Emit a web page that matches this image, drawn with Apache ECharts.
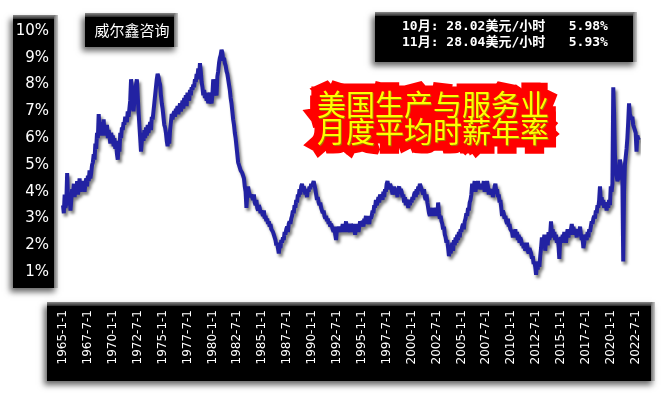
<!DOCTYPE html>
<html>
<head>
<meta charset="utf-8">
<script src="https://cdn.jsdelivr.net/npm/echarts@6/dist/echarts.min.js"></script>
<style>
html,body{margin:0;padding:0;background:#fff;}
#c{width:662px;height:393px;}
</style>
</head>
<body>
<div id="c"></div>
<script>
// ---- data (monthly YoY % of US production & nonsupervisory avg hourly earnings) ----
const START_YEAR = 1965;
const v1965_1969 = [
  3.5,3.2,3.9,3.4,3.6,4.7,3.8,3.5,3.9,3.3,3.7,4.1,
  3.9,4.3,3.8,4.2,4.0,4.4,3.9,4.1,4.5,4.0,4.2,4.3,
  4.1,4.4,4.0,4.3,4.5,4.2,4.6,4.4,4.8,4.5,4.7,5.0,
  5.1,5.4,5.2,5.8,5.6,6.2,6.0,6.9,6.4,6.6,6.1,6.5,
  6.3,6.7,6.1,6.4,6.2,6.5,6.0,6.3,6.1,5.8,6.2,6.0
];
const v1970_1979 = [
  6.1,5.7,6.0,5.6,5.9,5.4,5.2,5.8,5.5,6.2,6.0,6.4,
  6.3,6.6,6.5,6.8,6.7,6.6,7.0,6.8,7.1,7.4,8.2,7.9,
  7.3,7.0,7.4,7.8,8.0,8.2,7.6,7.0,6.5,6.0,5.5,5.9,
  6.2,5.9,6.3,6.0,6.4,6.1,6.5,6.2,6.4,6.6,6.3,6.8,
  6.7,7.0,7.3,7.6,7.9,8.2,8.4,8.3,8.1,8.0,7.6,7.3,
  7.1,6.8,6.5,6.4,6.2,5.9,5.7,6.0,5.8,6.3,6.6,6.9,
  6.7,6.9,7.0,6.8,7.1,7.0,7.2,6.9,7.1,7.3,7.0,7.2,
  7.4,7.1,7.5,7.3,7.6,7.2,7.7,7.5,7.4,7.8,7.6,7.9,
  7.8,8.0,7.9,8.2,8.1,8.4,8.3,8.6,8.2,8.8,8.5,8.1,
  7.9,7.6,7.8,7.5,7.7,7.4,7.6,7.3,7.5,7.7,7.4,7.3
];
const v1980_1989 = [
  7.6,8.2,7.8,8.0,7.7,7.6,8.3,8.5,8.8,9.0,9.1,9.3,
  9.2,8.9,9.0,8.8,8.7,8.5,8.4,8.2,8.0,7.8,7.5,7.3,
  7.0,6.7,6.5,6.2,6.0,5.7,5.4,5.1,5.0,4.9,4.8,4.8,
  4.7,4.7,4.5,4.2,4.0,3.4,3.9,4.2,4.0,3.9,3.8,3.9,
  3.8,3.7,3.9,3.6,3.5,3.7,3.4,3.3,3.5,3.4,3.2,3.3,
  3.2,3.1,3.3,3.0,3.1,2.9,3.0,2.8,2.9,2.7,2.8,2.6,
  2.6,2.5,2.4,2.3,2.2,2.0,2.1,1.9,1.7,2.0,1.9,2.2,
  2.1,2.3,2.2,2.5,2.4,2.6,2.7,2.5,2.8,2.9,2.8,3.0,
  3.1,3.3,3.2,3.5,3.4,3.7,3.6,3.9,3.8,4.1,3.9,4.2,
  4.3,4.0,4.2,4.1,3.9,4.0,3.8,4.1,4.0,4.2,4.1,4.3
];
const v1990_1999 = [
  4.2,4.3,4.4,4.4,4.1,3.9,3.7,3.8,3.6,3.5,3.6,3.4,
  3.3,3.2,3.3,3.1,3.0,3.1,2.9,3.0,2.8,2.9,2.7,2.8,
  2.7,2.6,2.5,2.7,2.4,2.2,2.6,2.5,2.7,2.6,2.5,2.7,
  2.6,2.8,2.5,2.7,2.6,2.9,2.5,2.7,2.8,2.6,2.5,2.8,
  2.7,2.5,2.8,2.6,2.4,2.7,2.6,2.8,2.5,2.7,2.9,2.8,
  2.8,2.9,2.7,3.0,2.9,3.1,2.8,3.0,2.9,2.8,3.1,3.0,
  3.1,3.3,3.2,3.5,3.4,3.7,3.5,3.6,3.8,3.6,3.9,3.8,
  3.9,3.7,4.0,3.8,4.1,4.0,4.3,4.4,4.2,4.1,4.3,4.2,
  4.1,3.9,4.0,4.2,3.9,4.1,4.0,3.8,4.1,4.2,4.0,4.1,
  4.0,3.8,3.9,3.6,3.8,3.5,3.7,3.6,3.4,3.6,3.5,3.7
];
const v2000_2009 = [
  3.6,3.8,3.7,3.9,4.0,3.8,4.1,3.9,4.2,4.1,4.3,4.2,
  4.1,4.0,3.9,4.1,3.8,3.7,3.9,3.6,3.4,3.2,3.1,3.3,
  3.2,3.4,3.1,3.3,3.2,3.4,3.3,3.1,3.6,3.2,3.0,3.1,
  2.9,2.8,2.6,2.7,2.4,2.3,2.1,2.2,1.9,1.6,1.8,1.7,
  1.9,2.1,1.8,2.2,2.0,2.3,2.1,2.4,2.2,2.5,2.3,2.6,
  2.5,2.7,2.8,2.6,2.9,3.0,3.2,3.1,3.4,3.3,3.6,3.7,
  3.9,4.3,4.1,4.2,4.4,4.0,4.3,4.2,4.4,4.1,4.3,4.2,
  4.1,4.3,4.2,4.4,4.0,4.3,4.1,4.4,4.2,3.9,4.1,4.0,
  3.9,4.1,3.8,4.0,4.2,4.3,4.0,4.1,3.8,3.9,3.6,3.7,
  3.4,3.1,3.3,3.2,3.0,3.1,2.9,2.8,3.0,2.7,2.8,2.6
];
const v2010_2019 = [
  2.6,2.5,2.3,2.5,2.4,2.6,2.3,2.5,2.2,2.4,2.1,2.3,
  2.2,2.0,2.1,1.9,2.0,1.8,1.9,2.1,1.8,1.7,1.9,1.8,
  1.7,1.5,1.6,1.3,1.4,1.2,0.9,1.3,1.1,1.4,1.2,1.6,
  1.9,2.3,2.0,2.1,2.4,1.8,2.2,2.3,2.0,2.5,2.2,2.4,
  2.9,2.4,2.6,2.3,2.5,2.2,2.4,2.1,2.3,2.0,1.5,2.2,
  2.3,2.1,2.4,2.2,2.5,2.3,2.1,2.4,2.6,2.3,2.5,2.4,
  2.6,2.8,2.5,2.7,2.4,2.6,2.5,2.3,2.6,2.4,2.5,2.7,
  2.4,2.2,2.3,1.9,2.1,2.4,2.3,2.2,2.5,2.3,2.6,2.5,
  2.7,2.9,2.8,3.0,3.1,3.0,3.3,3.2,3.5,3.4,3.7,4.2,
  3.6,3.8,3.5,3.7,3.4,3.6,3.5,3.3,3.6,3.4,3.7,3.5
];
const v2020_2022 = [
  4.2,4.0,4.3,7.9,6.9,5.4,4.9,4.6,4.4,4.5,4.6,5.2,
  5.0,4.6,4.4,1.4,4.0,5.0,5.3,5.6,6.0,6.6,7.3,6.9,
  6.9,6.7,6.8,6.5,6.4,6.3,6.2,5.5,6.1,5.98,5.93
];
const yTickValues = [1,2,3,4,5,6,7,8,9,10];
const infoLines = ['10月: 28.02美元/小时   5.98%', '11月: 28.04美元/小时   5.93%'];
const titleText = '美国生产与服务业\n月度平均时薪年率';
const sourceText = '威尔鑫咨询';

const values = [].concat(v1965_1969, v1970_1979, v1980_1989, v1990_1999, v2000_2009, v2010_2019, v2020_2022);
const categories = [];
for (let i = 0; i < values.length; i++) {
  const y = START_YEAR + Math.floor(i / 12);
  const m = (i % 12) + 1;
  categories.push(y + '-' + m + '-1');
}

// ---- style helpers ----
function box(x, y, w, h) {
  return [
    {type:'rect', z:-2, shape:{x:x, y:y, width:w, height:h},
     style:{fill:'#000', shadowBlur:6, shadowColor:'rgba(0,0,0,0.6)', shadowOffsetX:-3, shadowOffsetY:4}},
    {type:'rect', z:-1, shape:{x:x, y:y, width:w, height:4},
     style:{fill:{type:'linear',x:0,y:0,x2:0,y2:1,colorStops:[{offset:0,color:'#8a8a8a'},{offset:1,color:'#2a2a2a'}]}}},
    {type:'rect', z:-1, shape:{x:x+w-4, y:y, width:4, height:h},
     style:{fill:{type:'linear',x:0,y:0,x2:1,y2:0,colorStops:[{offset:0,color:'#707070'},{offset:1,color:'#c8c8c8'}]}}}
  ];
}

const chart = echarts.init(document.getElementById('c'), null, {renderer:'canvas'});
const graphics = [].concat(
  box(13, 15, 45, 273),
  box(47, 302, 608, 79),
  box(85, 13, 93, 34),
  box(375, 12, 262, 50),
  [
    {type:'text', z:5, style:{x:132, y:30, text:sourceText, fill:'#fff',
      font:'15px "Noto Sans CJK SC"', align:'center', verticalAlign:'middle'}},
    {type:'text', z:5, style:{x:402, y:27, text:infoLines[0], fill:'#fff',
      font:'bold 13px "DejaVu Sans Mono", "Noto Sans CJK SC"', align:'left', verticalAlign:'middle'}},
    {type:'text', z:5, style:{x:402, y:43, text:infoLines[1], fill:'#fff',
      font:'bold 13px "DejaVu Sans Mono", "Noto Sans CJK SC"', align:'left', verticalAlign:'middle'}},
    // title red glow
    {type:'text', z:10, style:{x:433, y:118, text:titleText, fill:'#ff0000', stroke:'#ff0000', lineWidth:17,
      lineJoin:'round', font:'29px "Noto Sans CJK SC"', lineHeight:27, align:'center', verticalAlign:'middle',
      shadowBlur:6, shadowColor:'rgba(0,0,0,0.55)', shadowOffsetX:3, shadowOffsetY:3}},
    {type:'text', z:11, style:{x:434, y:119, text:titleText, fill:'#a87800',
      font:'29px "Noto Sans CJK SC"', lineHeight:27, align:'center', verticalAlign:'middle'}},
    {type:'text', z:12, style:{x:433, y:118, text:titleText, fill:'#ffff00',
      font:'29px "Noto Sans CJK SC"', lineHeight:27, align:'center', verticalAlign:'middle'}}
  ]
);

chart.setOption({
  animation:false,
  backgroundColor:'#fff',
  grid:{left:63, right:23, top:31, bottom:94, containLabel:false},
  xAxis:{
    type:'category', boundaryGap:false, data:categories,
    axisLine:{show:false}, axisTick:{show:false}, splitLine:{show:false},
    axisLabel:{interval:29, rotate:90, color:'#fff', fontSize:12, fontFamily:'DejaVu Sans', margin:11}
  },
  yAxis:{
    type:'value', min:0, max:10, interval:1,
    axisLine:{show:false}, axisTick:{show:false}, splitLine:{show:false},
    axisLabel:{color:'#fff', fontSize:15, fontFamily:'DejaVu Sans', margin:14,
      formatter:function(v){ return yTickValues.indexOf(v) >= 0 ? v + '%' : ''; }}
  },
  series:[{
    type:'line', data:values, showSymbol:false, smooth:false,
    lineStyle:{color:'#2222a2', width:4, shadowColor:'rgba(0,0,0,0.5)', shadowBlur:3, shadowOffsetX:2, shadowOffsetY:3},
    z:3
  }],
  graphic:graphics
});
</script>
</body>
</html>
